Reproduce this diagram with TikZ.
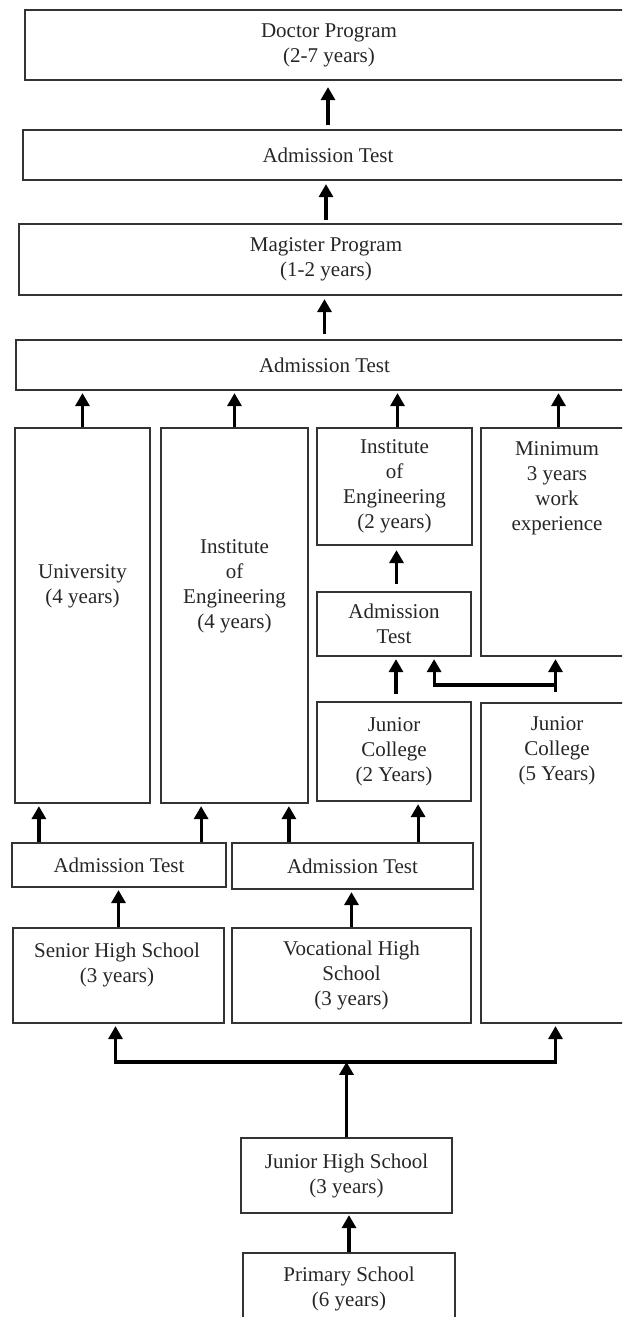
\documentclass[tikz,border=0pt]{standalone}
\usepackage{fontspec}
\setmainfont{Liberation Serif}
\usetikzlibrary{arrows.meta}
\tikzset{
  box/.style={draw=black!80, line width=2.2pt, inner sep=0pt, align=center, text=black!85, font=\fontsize{21}{25}\selectfont},
  lbl/.style={inner sep=0pt, align=center, text=black!85, font=\fontsize{21}{25}\selectfont},
  arr/.style={line width=3.2pt, -{Triangle[width=14pt,length=13pt]}},
}
\begin{document}
\begin{tikzpicture}[x=1pt,y=-1pt]
\useasboundingbox (0,0) rectangle (622,1317);
\clip (0,0) rectangle (622,1317);
% boxes
\node[box, minimum width=608pt, minimum height=70pt] (doc) at (329,45) {Doctor Program\\(2-7 years)};
\node[box, minimum width=610pt, minimum height=50pt] (at1) at (328,155) {Admission Test};
\node[box, minimum width=614pt, minimum height=71pt] (mag) at (326,259.5) {Magister Program\\(1-2 years)};
\node[box, minimum width=617pt, minimum height=50pt] (at2) at (324.5,365) {Admission Test};
\node[box, minimum width=135pt, minimum height=375pt] (univ) at (82.5,615.5) {};
\node[lbl] (univt) at (82.5,586) {University\\(4 years)};
\node[box, minimum width=147pt, minimum height=375pt] (ioe4) at (234.5,615.5) {};
\node[lbl] (ioe4t) at (234.5,586) {Institute\\of\\Engineering\\(4 years)};
\node[box, minimum width=155pt, minimum height=117pt] (ioe2) at (394.5,486.5) {Institute\\of\\Engineering\\(2 years)};
\node[box, minimum width=149pt, minimum height=228pt] (minw) at (555.5,542) {};
\node[lbl] (minwt) at (557,488) {Minimum\\3 years\\work\\experience};
\node[box, minimum width=154pt, minimum height=64pt] (ats) at (394,624) {Admission\\Test};
\node[box, minimum width=154pt, minimum height=99pt] (jc2) at (394,751.5) {Junior\\College\\(2 Years)};
\node[box, minimum width=149pt, minimum height=320pt] (jc5) at (555.5,863) {};
\node[lbl] (jc5t) at (557,751) {Junior\\College\\(5 Years)};
\node[box, minimum width=214pt, minimum height=44pt] (atl) at (119,865) {Admission Test};
\node[box, minimum width=241pt, minimum height=46pt] (atr) at (352.5,866) {Admission Test};
\node[box, minimum width=211pt, minimum height=95pt] (shs) at (118.5,975.5) {};
\node[lbl] (shst) at (117,964.5) {Senior High School\\(3 years)};
\node[box, minimum width=239pt, minimum height=95pt] (vhs) at (351.5,975.5) {Vocational High\\School\\(3 years)};
\node[box, minimum width=211pt, minimum height=75pt] (jhs) at (346.5,1175.5) {Junior High School\\(3 years)};
\node[box, minimum width=212pt, minimum height=72pt] (ps) at (349,1289) {Primary School\\(6 years)};
% upper chain
\draw[arr, shorten <=4pt, shorten >=6pt] (at1.north) -- (at1.north |- doc.south);
\draw[arr, shorten <=3pt, shorten >=3pt] (mag.north) -- (mag.north |- at1.south);
\draw[arr, shorten <=5pt, shorten >=3pt] (at2.north) -- (at2.north |- mag.south);
\draw[arr, shorten >=2pt] (univ.north) -- (univ.north |- at2.south);
\draw[arr, shorten >=2pt] (ioe4.north) -- (ioe4.north |- at2.south);
\draw[arr, shorten >=2pt] ([xshift=3pt]ioe2.north) -- ([xshift=3pt]ioe2.north |- at2.south);
\draw[arr, shorten >=2pt] ([xshift=3pt]minw.north) -- ([xshift=3pt]minw.north |- at2.south);
\draw[arr, shorten <=7pt, shorten >=4pt] ([xshift=2.5pt]ats.north) -- ([xshift=2.5pt]ats.north |- ioe2.south);
\draw[arr, shorten <=7pt, shorten >=2pt] ([xshift=2pt]jc2.north) -- ([xshift=2pt]jc2.north |- ats.south);
% elbow from junior college (5 years)
\coordinate (jc5top) at ([yshift=10pt]jc5.north);
\coordinate (split) at ([yshift=17pt]jc5.north);
\draw[arr, shorten >=2pt] (jc5top) -- (minw.south);
\draw[arr, shorten >=2pt] (split) -| ([xshift=-38pt]ats.south east);
% admission tests to programs
\draw[arr, shorten >=2pt] ([xshift=28pt]atl.north west) -- ([xshift=28pt]atl.north west |- univ.south);
\draw[arr, shorten >=2pt] ([xshift=-26pt]atl.north east) -- ([xshift=-26pt]atl.north east |- ioe4.south);
\draw[arr, shorten >=2pt] ([xshift=58pt]atr.north west) -- ([xshift=58pt]atr.north west |- ioe4.south);
\draw[arr, shorten >=2pt] ([xshift=-56pt]atr.north east) -- ([xshift=-56pt]atr.north east |- jc2.south);
% schools to admission tests
\draw[arr, shorten >=2pt] (shs.north) -- (shs.north |- atl.south);
\draw[arr, shorten >=2pt] (vhs.north) -- (vhs.north |- atr.south);
% junior high to the three branches
\coordinate (junc) at ([yshift=75pt]jhs.north);
\draw[arr] (jhs.north) -- (junc);
\draw[arr, shorten >=2pt] (junc) -| ([xshift=-3pt]shs.south);
\draw[arr, shorten >=2pt] (junc) -| (jc5.south);
\draw[arr, shorten >=1pt] (ps.north) -- (ps.north |- jhs.south);
\end{tikzpicture}
\end{document}
